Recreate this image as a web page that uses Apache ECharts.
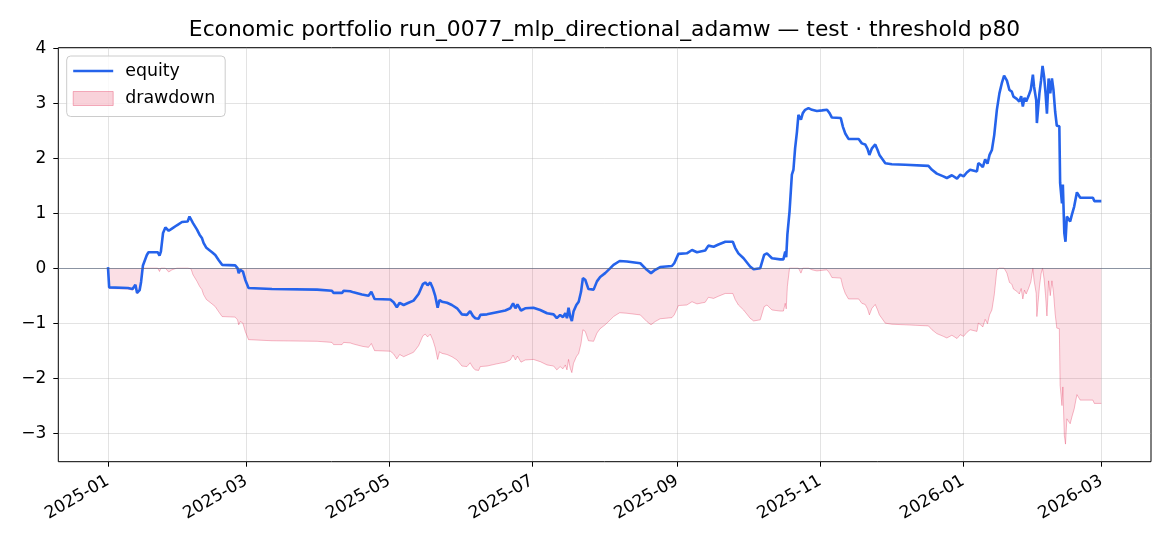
<!DOCTYPE html>
<html>
<head>
<meta charset="utf-8">
<script src="https://cdn.jsdelivr.net/npm/echarts@6/dist/echarts.min.js"></script>
<style>
html,body{margin:0;padding:0;background:#fff;}
#chart{width:1170px;height:546px;}
</style>
</head>
<body>
<div id="chart"></div>
<script>
const titleText = 'Economic portfolio run_0077_mlp_directional_adamw \u2014 test \u00b7 threshold p80';
const xTickLabels = ['2025-01','2025-03','2025-05','2025-07','2025-09','2025-11','2026-01','2026-03'];
const yTicks = [-3,-2,-1,0,1,2,3,4];

const dates = [
'2025-01-01 00:00','2025-01-01 12:00','2025-01-09 12:00','2025-01-11 12:00','2025-01-12 00:00','2025-01-12 17:00','2025-01-13 10:00','2025-01-14 12:00','2025-01-15 03:00','2025-01-15 22:00',
'2025-01-16 14:00','2025-01-17 14:00','2025-01-18 07:00','2025-01-22 05:00','2025-01-23 00:00','2025-01-23 14:00','2025-01-24 12:00','2025-01-25 12:00','2025-01-26 05:00','2025-01-26 22:00',
'2025-01-28 07:00','2025-01-30 10:00','2025-02-01 14:00','2025-02-04 00:00','2025-02-04 19:00','2025-02-05 10:00','2025-02-06 07:00','2025-02-06 19:00','2025-02-08 00:00','2025-02-09 02:00',
'2025-02-10 02:00','2025-02-10 19:00','2025-02-12 00:00','2025-02-12 22:00','2025-02-14 10:00','2025-02-15 19:00','2025-02-17 05:00','2025-02-18 17:00','2025-02-24 07:00','2025-02-25 07:00',
'2025-02-25 19:00','2025-02-26 12:00','2025-02-27 14:00','2025-02-28 14:00','2025-03-02 00:00','2025-03-12 00:00','2025-03-31 06:00','2025-04-01 00:00','2025-04-06 14:00','2025-04-07 07:00',
'2025-04-10 22:00','2025-04-11 14:00','2025-04-14 10:00','2025-04-15 19:00','2025-04-19 10:00','2025-04-22 05:00','2025-04-23 10:00','2025-04-24 19:00','2025-05-01 12:00','2025-05-02 22:00',
'2025-05-04 07:00','2025-05-05 12:00','2025-05-07 05:00','2025-05-09 07:00','2025-05-11 10:00','2025-05-13 14:00','2025-05-15 10:00','2025-05-16 10:00','2025-05-17 10:00','2025-05-18 14:00',
'2025-05-19 17:00','2025-05-20 17:00','2025-05-21 17:00','2025-05-22 12:00','2025-05-23 14:00','2025-05-25 17:00','2025-05-27 19:00','2025-05-30 00:00','2025-06-01 02:00','2025-06-03 05:00',
'2025-06-04 14:00','2025-06-05 19:00','2025-06-06 19:00','2025-06-08 05:00','2025-06-08 22:00','2025-06-11 19:00','2025-06-16 00:00','2025-06-19 14:00','2025-06-21 17:00','2025-06-22 22:00',
'2025-06-23 22:00','2025-06-24 19:00','2025-06-26 07:00','2025-06-28 02:00','2025-07-01 14:00','2025-07-04 12:00','2025-07-07 10:00','2025-07-10 05:00','2025-07-11 14:00','2025-07-13 00:00',
'2025-07-14 05:00','2025-07-15 05:00','2025-07-15 22:00','2025-07-16 14:00','2025-07-17 07:00','2025-07-18 00:00','2025-07-18 17:00','2025-07-19 22:00','2025-07-20 22:00','2025-07-21 22:00',
'2025-07-22 17:00','2025-07-23 17:00','2025-07-25 02:00','2025-07-27 07:00','2025-07-28 17:00','2025-07-30 02:00','2025-08-01 05:00','2025-08-03 10:00','2025-08-04 19:00','2025-08-07 10:00',
'2025-08-10 12:00','2025-08-16 05:00','2025-08-19 00:00','2025-08-20 19:00','2025-08-22 14:00','2025-08-24 17:00','2025-08-29 17:00','2025-08-30 17:00','2025-09-01 12:00','2025-09-05 02:00',
'2025-09-07 07:00','2025-09-09 10:00','2025-09-12 22:00','2025-09-14 07:00','2025-09-16 12:00','2025-09-18 14:00','2025-09-21 12:00','2025-09-24 17:00','2025-09-25 17:00','2025-09-27 02:00',
'2025-09-29 07:00','2025-10-02 02:00','2025-10-03 14:00','2025-10-06 10:00','2025-10-08 02:00','2025-10-09 07:00','2025-10-11 10:00','2025-10-14 22:00','2025-10-16 07:00','2025-10-17 02:00',
'2025-10-17 12:00','2025-10-18 00:00','2025-10-18 22:00','2025-10-19 22:00','2025-10-20 14:00','2025-10-21 07:00','2025-10-22 02:00','2025-10-22 17:00','2025-10-23 19:00','2025-10-24 14:00',
'2025-10-25 14:00','2025-10-27 00:00','2025-10-28 12:00','2025-10-30 14:00','2025-11-01 19:00','2025-11-03 22:00','2025-11-05 00:00','2025-11-06 00:00','2025-11-09 19:00','2025-11-10 17:00',
'2025-11-11 17:00','2025-11-13 02:00','2025-11-17 10:00','2025-11-18 19:00','2025-11-20 05:00','2025-11-21 05:00','2025-11-22 00:00','2025-11-23 02:00','2025-11-24 12:00','2025-11-25 12:00',
'2025-11-26 07:00','2025-11-27 07:00','2025-11-28 19:00','2025-12-01 14:00','2025-12-07 07:00','2025-12-17 05:00','2025-12-18 17:00','2025-12-20 19:00','2025-12-23 14:00','2025-12-25 02:00',
'2025-12-27 05:00','2025-12-29 10:00','2025-12-30 19:00','2026-01-01 05:00','2026-01-02 14:00','2026-01-04 00:00','2026-01-06 22:00','2026-01-07 12:00','2026-01-08 12:00','2026-01-09 10:00',
'2026-01-10 10:00','2026-01-11 10:00','2026-01-12 07:00','2026-01-13 07:00','2026-01-14 07:00','2026-01-15 10:00','2026-01-16 12:00','2026-01-17 12:00','2026-01-18 12:00','2026-01-19 17:00',
'2026-01-20 19:00','2026-01-21 19:00','2026-01-22 12:00','2026-01-23 22:00','2026-01-25 00:00','2026-01-25 19:00','2026-01-26 12:00','2026-01-27 05:00','2026-01-27 22:00','2026-01-28 22:00',
'2026-01-29 22:00','2026-01-30 19:00','2026-01-31 07:00','2026-02-01 05:00','2026-02-01 12:00','2026-02-02 05:00','2026-02-02 14:00','2026-02-03 07:00','2026-02-03 22:00','2026-02-04 14:00',
'2026-02-05 05:00','2026-02-05 19:00','2026-02-06 12:00','2026-02-07 05:00','2026-02-07 22:00','2026-02-08 14:00','2026-02-09 07:00','2026-02-10 00:00','2026-02-11 02:00','2026-02-11 10:00',
'2026-02-12 05:00','2026-02-12 14:00','2026-02-13 05:00','2026-02-13 17:00','2026-02-14 07:00','2026-02-15 17:00','2026-02-16 10:00','2026-02-17 10:00','2026-02-18 02:00','2026-02-18 14:00',
'2026-02-19 10:00','2026-02-20 00:00','2026-02-25 10:00','2026-02-26 00:00','2026-03-01 00:00'
];

const equity = [
0.02,-0.35,-0.36,-0.38,-0.41,-0.30,-0.45,-0.40,-0.25,0.05,
0.08,0.24,0.29,0.29,0.23,0.30,0.64,0.74,0.75,0.68,
0.72,0.78,0.84,0.85,0.94,0.93,0.82,0.79,0.70,0.61,
0.55,0.46,0.37,0.34,0.29,0.24,0.15,0.06,0.05,0.00,
-0.09,-0.03,-0.06,-0.21,-0.36,-0.38,-0.39,-0.41,-0.41,-0.45,
-0.45,-0.41,-0.42,-0.44,-0.48,-0.50,-0.43,-0.56,-0.57,-0.62,
-0.71,-0.63,-0.67,-0.63,-0.59,-0.47,-0.29,-0.26,-0.31,-0.26,
-0.37,-0.51,-0.72,-0.58,-0.61,-0.63,-0.67,-0.73,-0.84,-0.85,
-0.78,-0.87,-0.91,-0.92,-0.85,-0.84,-0.80,-0.77,-0.73,-0.64,
-0.73,-0.66,-0.77,-0.73,-0.72,-0.76,-0.82,-0.84,-0.91,-0.85,
-0.89,-0.82,-0.91,-0.72,-0.88,-0.96,-0.79,-0.67,-0.61,-0.43,
-0.18,-0.21,-0.38,-0.39,-0.24,-0.16,-0.09,0.00,0.06,0.13,
0.12,0.09,-0.03,-0.09,-0.03,0.02,0.04,0.09,0.26,0.27,
0.33,0.29,0.32,0.41,0.39,0.43,0.48,0.48,0.37,0.27,
0.18,0.03,-0.02,0.00,0.24,0.27,0.18,0.16,0.16,0.30,
0.20,0.61,1.03,1.70,1.79,2.18,2.48,2.79,2.70,2.82,
2.88,2.91,2.88,2.86,2.87,2.88,2.82,2.74,2.73,2.57,
2.45,2.35,2.35,2.27,2.25,2.17,2.06,2.18,2.25,2.15,
2.06,2.00,1.91,1.89,1.88,1.86,1.79,1.72,1.67,1.64,
1.69,1.63,1.70,1.67,1.74,1.79,1.76,1.91,1.88,1.84,
1.98,1.90,2.06,2.15,2.42,2.88,3.18,3.36,3.50,3.41,
3.24,3.21,3.12,3.08,3.03,3.13,2.94,3.10,3.03,3.13,
3.25,3.52,3.30,3.06,2.64,2.61,3.18,3.42,3.68,3.48,
3.18,2.81,3.45,3.18,3.45,3.24,2.85,2.59,2.58,1.55,
1.18,1.52,0.64,0.48,0.94,0.85,0.97,1.12,1.15,1.38,
1.38,1.28,1.28,1.22,1.22
];

const drawdown = [
0,-0.37,-0.38,-0.40,-0.43,-0.32,-0.47,-0.42,-0.27,0,
0,0,0,0,-0.06,0,0,0,0,-0.07,
-0.03,0,0,0,0,-0.01,-0.12,-0.15,-0.24,-0.33,
-0.39,-0.48,-0.57,-0.60,-0.65,-0.70,-0.79,-0.88,-0.89,-0.94,
-1.03,-0.97,-1.00,-1.15,-1.30,-1.32,-1.33,-1.35,-1.35,-1.39,
-1.39,-1.35,-1.36,-1.38,-1.42,-1.44,-1.37,-1.50,-1.51,-1.56,
-1.65,-1.57,-1.61,-1.57,-1.53,-1.41,-1.23,-1.20,-1.25,-1.20,
-1.31,-1.45,-1.66,-1.52,-1.55,-1.57,-1.61,-1.67,-1.78,-1.79,
-1.72,-1.81,-1.85,-1.86,-1.79,-1.78,-1.74,-1.71,-1.67,-1.58,
-1.67,-1.60,-1.71,-1.67,-1.66,-1.70,-1.76,-1.78,-1.85,-1.79,
-1.83,-1.76,-1.85,-1.66,-1.82,-1.90,-1.73,-1.61,-1.55,-1.37,
-1.12,-1.15,-1.32,-1.33,-1.18,-1.10,-1.03,-0.94,-0.88,-0.81,
-0.82,-0.85,-0.97,-1.03,-0.97,-0.92,-0.90,-0.85,-0.68,-0.67,
-0.61,-0.65,-0.62,-0.53,-0.55,-0.51,-0.46,-0.46,-0.57,-0.67,
-0.76,-0.91,-0.96,-0.94,-0.70,-0.67,-0.76,-0.78,-0.78,-0.64,
-0.74,-0.33,0,0,0,0,0,0,-0.09,0,
0,0,-0.03,-0.05,-0.04,-0.03,-0.09,-0.17,-0.18,-0.34,
-0.46,-0.56,-0.56,-0.64,-0.66,-0.74,-0.85,-0.73,-0.66,-0.76,
-0.85,-0.91,-1.00,-1.02,-1.03,-1.05,-1.12,-1.19,-1.24,-1.27,
-1.22,-1.28,-1.21,-1.24,-1.17,-1.12,-1.15,-1.00,-1.03,-1.07,
-0.93,-1.01,-0.85,-0.76,-0.49,-0.03,0,0,0,-0.09,
-0.26,-0.29,-0.38,-0.42,-0.47,-0.37,-0.56,-0.40,-0.47,-0.37,
-0.25,0,-0.22,-0.46,-0.88,-0.91,-0.34,-0.10,0,-0.20,
-0.50,-0.87,-0.23,-0.50,-0.23,-0.44,-0.83,-1.09,-1.10,-2.13,
-2.50,-2.16,-3.04,-3.20,-2.74,-2.83,-2.71,-2.56,-2.53,-2.30,
-2.30,-2.40,-2.40,-2.46,-2.46
];

const FONT = 'DejaVu Sans';
function toTime(s) {
  const m = s.match(/^(\d+)-(\d+)(?:-(\d+))?(?:\s+(\d+):(\d+))?$/);
  return new Date(+m[1], +m[2] - 1, m[3] ? +m[3] : 1, m[4] ? +m[4] : 0, m[5] ? +m[5] : 0).getTime();
}
const tickTimes = xTickLabels.map(toTime);
const equityData = dates.map((d, i) => [toTime(d), equity[i]]);
const drawdownData = dates.map((d, i) => [toTime(d), drawdown[i]]);

const chart = echarts.init(document.getElementById('chart'), null, {renderer: 'canvas'});
chart.setOption({
  animation: false,
  backgroundColor: '#ffffff',
  title: {
    text: titleText,
    left: 604.5,
    top: 19,
    textAlign: 'center',
    padding: 0,
    textStyle: {fontFamily: FONT, fontSize: 21.8, fontWeight: 'normal', color: '#000'}
  },
  legend: {
    orient: 'vertical',
    left: 66.7,
    top: 56,
    padding: [5, 10, 8, 6],
    itemGap: 7.5,
    itemWidth: 40,
    itemHeight: 14,
    borderColor: '#cccccc',
    borderWidth: 1,
    borderRadius: 4,
    backgroundColor: 'rgba(255,255,255,0.8)',
    textStyle: {fontFamily: FONT, fontSize: 17.4, color: '#000', lineHeight: 20, padding: [0, 0, 0, 7]},
    data: [
      {name: 'equity', icon: 'path://M0,0H40V2.6H0Z', itemStyle: {color: '#2563eb', borderWidth: 0}},
      {name: 'drawdown', icon: 'rect', itemStyle: {color: 'rgba(225,29,72,0.2)', borderColor: 'rgba(225,29,72,0.32)', borderWidth: 1}}
    ]
  },
  grid: {
    left: 58.3, right: 19, top: 47.7, bottom: 84.3,
    show: true, borderColor: '#000', borderWidth: 1, backgroundColor: 'transparent'
  },
  xAxis: {
    type: 'value',
    min: toTime('2024-12-10 19:00'),
    max: toTime('2026-03-22 05:00'),
    axisLine: {show: false, onZero: false},
    axisTick: {show: true, length: 5, lineStyle: {color: '#000', width: 1}, customValues: tickTimes},
    axisLabel: {
      customValues: tickTimes,
      rotate: 30,
      margin: 18,
      fontFamily: FONT, fontSize: 17, color: '#000',
      formatter: function (v) { const i = tickTimes.indexOf(v); return i >= 0 ? xTickLabels[i] : ''; }
    },
    splitLine: {show: true, lineStyle: {color: 'rgba(176,176,176,0.35)', width: 1}}
  },
  yAxis: {
    type: 'value',
    min: -3.52,
    max: 4.01,
    axisLine: {show: false, onZero: false},
    axisTick: {show: true, length: 5, lineStyle: {color: '#000', width: 1}, customValues: yTicks},
    axisLabel: {
      customValues: yTicks,
      margin: 12,
      fontFamily: FONT, fontSize: 17, color: '#000',
      formatter: function (v) { return v < 0 ? '\u2212' + Math.abs(v) : String(v); }
    },
    splitLine: {show: true, lineStyle: {color: 'rgba(176,176,176,0.35)', width: 1}}
  },
  series: [
    {
      name: 'drawdown',
      type: 'line',
      data: drawdownData,
      showSymbol: false,
      symbol: 'none',
      z: 2,
      lineStyle: {color: 'rgba(225,29,72,0.3)', width: 1},
      itemStyle: {color: 'rgba(225,29,72,0.2)'},
      areaStyle: {origin: 0, color: 'rgba(225,29,72,0.2)'},
      markLine: {
        silent: true,
        symbol: ['none', 'none'],
        label: {show: false},
        lineStyle: {color: 'rgba(80,95,118,0.6)', width: 1.2, type: 'solid'},
        data: [{yAxis: 0}]
      }
    },
    {
      name: 'equity',
      type: 'line',
      data: equityData,
      showSymbol: false,
      symbol: 'none',
      z: 3,
      lineStyle: {color: '#2563eb', width: 2.6},
      itemStyle: {color: '#2563eb'}
    }
  ]
});
</script>
</body>
</html>
